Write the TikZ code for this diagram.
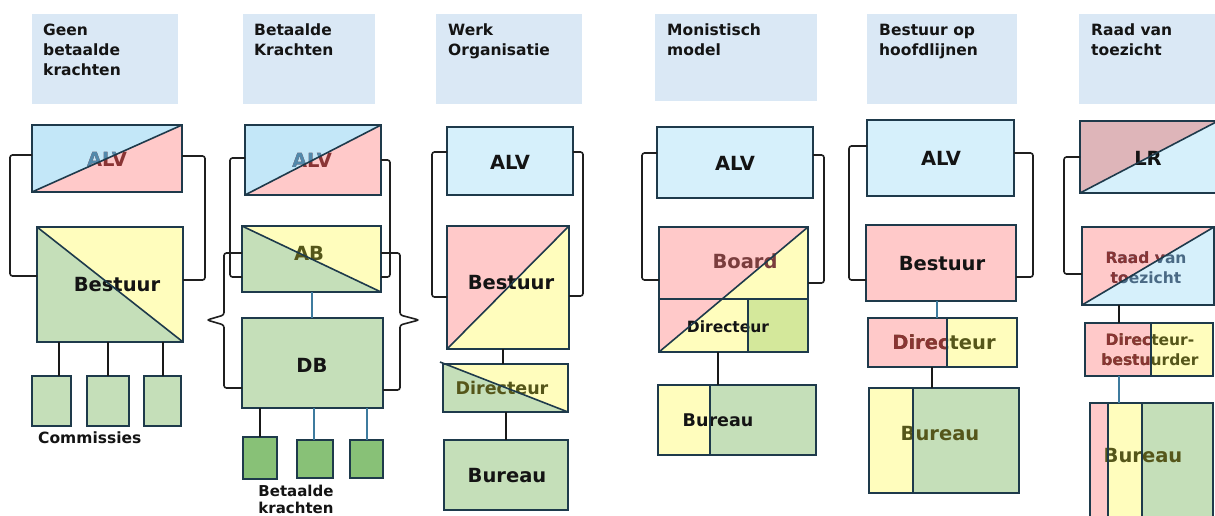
\documentclass[tikz,border=0pt]{standalone}
\usepackage{fontspec}
\setmainfont{DejaVu Sans}
\newcommand\HeadFont{\fontsize{15.5}{20}\selectfont\bfseries}
\newcommand\FootFont{\fontsize{15}{17}\selectfont\bfseries}
\newcommand\BoxFont{\fontsize{19.5}{20}\selectfont\bfseries}
\newcommand\MidFont{\fontsize{17.5}{20}\selectfont\bfseries}
\newcommand\SubFont{\fontsize{15.5}{20}\selectfont\bfseries}
\definecolor{chdr}{HTML}{DAE8F5}
\definecolor{cblue}{HTML}{C3E7F8}
\definecolor{clblue}{HTML}{D6F0FB}
\definecolor{cpink}{HTML}{FFC9C9}
\definecolor{cyellow}{HTML}{FFFDBD}
\definecolor{cgreen}{HTML}{C5DFB9}
\definecolor{cdgreen}{HTML}{88C177}
\definecolor{clime}{HTML}{D4E89B}
\definecolor{clrpink}{HTML}{DEB5B9}
\definecolor{cborder}{HTML}{1E3A4B}
\definecolor{clink}{HTML}{3E7B9E}
\definecolor{ctext}{HTML}{141414}
\definecolor{tblue}{HTML}{5289AB}
\definecolor{tred}{HTML}{8A3434}
\definecolor{tolive}{HTML}{55561A}
\definecolor{tbrown}{HTML}{7A3D3D}
\definecolor{tnavy}{HTML}{4A6A85}
\tikzset{
  box/.style={inner sep=0pt, outer sep=0pt, anchor=north west, draw=none},
  hdr/.style={box, fill=chdr},
  edge/.style={draw=cborder, line width=1.6pt},
  thin edge/.style={draw=cborder, line width=1.2pt},
  brk/.style={draw=black!88, line width=1.6pt, rounded corners=2.5pt},
  link/.style={draw=black!90, line width=2pt},
  blink/.style={draw=clink, line width=2pt},
  htext/.style={inner sep=0pt, anchor=north west, align=left, font=\HeadFont, text=ctext},
  lbl/.style={inner sep=0pt, font=\BoxFont, text=ctext},
}
\begin{document}
\begin{tikzpicture}[x=1pt,y=-1pt]
\useasboundingbox (0,0) rectangle (1215,515);
\fill[white] (0,0) rectangle (1215,515);

% ---------- column headers ----------
\node[hdr, minimum width=146pt, minimum height=90pt] (h1) at (32,14) {};
\node[htext] (h1t) at (43,24) {Geen\\betaalde\\krachten};
\node[hdr, minimum width=132pt, minimum height=90pt] (h2) at (243,14) {};
\node[htext] (h2t) at (254,24) {Betaalde\\Krachten};
\node[hdr, minimum width=146pt, minimum height=90pt] (h3) at (436,14) {};
\node[htext] (h3t) at (448,24) {Werk\\Organisatie};
\node[hdr, minimum width=162pt, minimum height=87pt] (h4) at (655,14) {};
\node[htext] (h4t) at (667,24) {Monistisch\\model};
\node[hdr, minimum width=150pt, minimum height=90pt] (h5) at (867,14) {};
\node[htext] (h5t) at (879,24) {Bestuur op\\hoofdlijnen};
\node[hdr, minimum width=140pt, minimum height=90pt] (h6) at (1079,14) {};
\node[htext] (h6t) at (1091,24) {Raad van\\toezicht};

% ---------- 1: geen betaalde krachten ----------
\node[box, fill=cblue, minimum width=150pt, minimum height=67pt] (alv1) at (32,125) {};
\fill[cpink] (alv1.south west) -- (alv1.north east) -- (alv1.south east) -- cycle;
\node[lbl, text=tred] (alv1t) at (107,159) {ALV};
\begin{scope}
  \clip (alv1.north west) -- (alv1.north east) -- (alv1.south west) -- cycle;
  \node[lbl, text=tblue] (alv1u) at (107,159) {ALV};
\end{scope}
\draw[edge] (alv1.north west) rectangle (alv1.south east) (alv1.south west) -- (alv1.north east);

\node[box, fill=cyellow, minimum width=146pt, minimum height=115pt] (best1) at (37,227) {};
\fill[cgreen] (best1.north west) -- (best1.south east) -- (best1.south west) -- cycle;
\node[lbl] (best1t) at (117,285) {Bestuur};
\draw[edge] (best1.north west) rectangle (best1.south east) (best1.north west) -- (best1.south east);

\draw[brk] ([yshift=3.5pt]alv1.west) -- ++(-22,0) |- ([yshift=8.5pt]best1.west);
\draw[brk] ([yshift=2.5pt]alv1.east) -- ++(23,0) |- ([yshift=4.5pt]best1.east);

\node[box, fill=cgreen, thin edge, minimum width=39pt, minimum height=50pt] (c1) at (32,376) {};
\node[box, fill=cgreen, thin edge, minimum width=42pt, minimum height=50pt] (c2) at (87,376) {};
\node[box, fill=cgreen, thin edge, minimum width=37pt, minimum height=50pt] (c3) at (144,376) {};
\draw[link] ([xshift=7.5pt]c1.north) -- ([xshift=7.5pt]c1.north |- best1.south);
\draw[link] (c2.north) -- (c2.north |- best1.south);
\draw[link] (c3.north) -- (c3.north |- best1.south);
\node[inner sep=0pt, anchor=base west, font=\SubFont, text=ctext] (com1) at (38,443) {Commissies};

% ---------- 2: betaalde krachten ----------
\node[box, fill=cblue, minimum width=136pt, minimum height=70pt] (alv2) at (245,125) {};
\fill[cpink] (alv2.south west) -- (alv2.north east) -- (alv2.south east) -- cycle;
\node[lbl, text=tred] (alv2t) at (312,160) {ALV};
\begin{scope}
  \clip (alv2.north west) -- (alv2.north east) -- (alv2.south west) -- cycle;
  \node[lbl, text=tblue] (alv2u) at (312,160) {ALV};
\end{scope}
\draw[edge] (alv2.north west) rectangle (alv2.south east) (alv2.south west) -- (alv2.north east);

\node[box, fill=cyellow, minimum width=139pt, minimum height=66pt] (ab2) at (242,226) {};
\fill[cgreen] (ab2.north west) -- (ab2.south east) -- (ab2.south west) -- cycle;
\node[lbl, text=tolive] (ab2t) at (309,253) {AB};
\draw[edge] (ab2.north west) rectangle (ab2.south east) (ab2.north west) -- (ab2.south east);

\node[box, fill=cgreen, minimum width=141pt, minimum height=90pt] (db2) at (242,318) {};
\draw[thin edge] (db2.north west) rectangle (db2.south east);
\node[lbl] (db2t) at (312,365) {DB};
\draw[blink] (ab2.south) -- (ab2.south |- db2.north);

\draw[brk] ([yshift=2pt]alv2.west) -- ++(-15,0) |- ([yshift=-18pt]ab2.west);
\draw[brk] (alv2.east) -- ++(9,0) |- ([yshift=-18pt]ab2.east);
\draw[brk] ([yshift=6pt]ab2.west) -- ++(-18,0) -- ++(0,62) -- ++(-17,5) -- ++(17,5) |- ([yshift=-25pt]db2.west);
\draw[brk] ([yshift=6pt]ab2.east) -- ++(19,0) -- ++(0,62) -- ++(19,5) -- ++(-19,5) |- ([yshift=-27pt]db2.east);

\node[box, fill=cdgreen, thin edge, minimum width=34pt, minimum height=42pt] (s1) at (243,437) {};
\node[box, fill=cdgreen, thin edge, minimum width=36pt, minimum height=38pt] (s2) at (297,440) {};
\node[box, fill=cdgreen, thin edge, minimum width=33pt, minimum height=38pt] (s3) at (350,440) {};
\draw[link] (s1.north) -- (s1.north |- db2.south);
\draw[blink] ([xshift=-1pt]s2.north) -- ([xshift=-1pt]s2.north |- db2.south);
\draw[blink] (s3.north) -- (s3.north |- db2.south);
\node[inner sep=0pt, anchor=north, align=center, font=\FootFont, text=ctext] (bk2) at (296,484.5) {Betaalde\\krachten};

% ---------- 3: werkorganisatie ----------
\node[box, fill=clblue, thin edge, minimum width=126pt, minimum height=68pt] (alv3) at (447,127) {};
\node[lbl] (alv3t) at (510,162) {ALV};

\node[box, fill=cpink, minimum width=122pt, minimum height=123pt] (best3) at (447,226) {};
\fill[cyellow] (best3.south west) -- (best3.north east) -- (best3.south east) -- cycle;
\node[lbl] (best3t) at (511,283) {Bestuur};
\draw[edge] (best3.north west) rectangle (best3.south east) (best3.south west) -- (best3.north east);

\draw[brk] ([yshift=9pt]alv3.west) -- ++(-15,0) |- ([yshift=-9.5pt]best3.west);
\draw[brk] ([yshift=9pt]alv3.east) -- ++(10,0) |- ([yshift=-8.5pt]best3.east);

\node[box, fill=cyellow, minimum width=125pt, minimum height=48pt] (dir3) at (443,364) {};
\fill[cgreen] (dir3.north west) -- (dir3.south east) -- (dir3.south west) -- cycle;
\node[lbl, font=\MidFont, text=tolive] (dir3t) at (502,388) {Directeur};
\draw[edge] (dir3.north west) rectangle (dir3.south east);
\draw[edge] ([xshift=-3pt,yshift=2pt]dir3.north west) -- (dir3.south east);
\draw[link] ([xshift=-5pt]best3.south) -- ([xshift=-5pt]best3.south |- dir3.north);

\node[box, fill=cgreen, thin edge, minimum width=124pt, minimum height=70pt] (bur3) at (444,440) {};
\node[lbl] (bur3t) at (507,476) {Bureau};
\draw[link] (dir3.south) -- (dir3.south |- bur3.north);

% ---------- 4: monistisch model ----------
\node[box, fill=clblue, thin edge, minimum width=156pt, minimum height=71pt] (alv4) at (657,127) {};
\node[lbl] (alv4t) at (735,163) {ALV};

\node[box, fill=cpink, minimum width=149pt, minimum height=125pt] (board4) at (659,227) {};
\fill[cyellow] (board4.south west) -- (board4.north east) -- (board4.south east) -- cycle;
\node[box, fill=clime, minimum width=60pt, minimum height=53pt] (dsq4) at (748,299) {};
\node[lbl, text=tbrown] (board4t) at (745,261) {Board};
\node[lbl, font=\SubFont] (dir4t) at (728,327) {Directeur};
\draw[thin edge] (board4.north west) rectangle (board4.south east);
\draw[thin edge] (dsq4.north west) rectangle (dsq4.south east);
\draw[thin edge] (board4.west |- dsq4.north) -- (dsq4.north west);
\draw[edge] (board4.south west) -- (board4.north east);

\draw[brk] ([yshift=9.5pt]alv4.west) -- ++(-15,0) |- ([yshift=9.5pt]board4.west);
\draw[brk] ([yshift=7.5pt]alv4.east) -- ++(11,0) |- ([yshift=6.5pt]board4.east);

\node[box, fill=cgreen, minimum width=158pt, minimum height=70pt] (bur4) at (658,385) {};
\node[box, fill=cyellow, minimum width=52pt, minimum height=70pt] (bur4y) at (658,385) {};
\node[lbl, font=\MidFont] (bur4t) at (718,420) {Bureau};
\draw[edge] (bur4.north west) rectangle (bur4.south east) (bur4y.north east) -- (bur4y.south east);
\draw[link] ([xshift=-15.5pt]board4.south) -- ([xshift=-15.5pt]board4.south |- bur4.north);

% ---------- 5: bestuur op hoofdlijnen ----------
\node[box, fill=clblue, thin edge, minimum width=147pt, minimum height=76pt] (alv5) at (867,120) {};
\node[lbl] (alv5t) at (941,158) {ALV};

\node[box, fill=cpink, thin edge, minimum width=150pt, minimum height=76pt] (best5) at (866,225) {};
\node[lbl] (best5t) at (942,264) {Bestuur};

\draw[brk] ([yshift=12pt]alv5.west) -- ++(-18,0) |- ([yshift=-17pt]best5.west);
\draw[brk] ([yshift=5pt]alv5.east) -- ++(19,0) |- ([yshift=-14pt]best5.east);

\node[box, fill=cpink, minimum width=149pt, minimum height=49pt] (dir5) at (868,318) {};
\node[box, fill=cyellow, minimum width=70pt, minimum height=49pt] (dir5y) at (947,318) {};
\node[lbl, text=tolive] (dir5t) at (944,342) {Directeur};
\begin{scope}
  \clip (dir5.north west) rectangle (dir5y.south west);
  \node[lbl, text=tred] (dir5u) at (944,342) {Directeur};
\end{scope}
\draw[edge] (dir5.north west) rectangle (dir5.south east) (dir5y.north west) rectangle (dir5y.south east);
\draw[blink] ([xshift=-4pt]best5.south) -- ([xshift=-4pt]best5.south |- dir5.north);

\node[box, fill=cgreen, minimum width=150pt, minimum height=105pt] (bur5) at (869,388) {};
\node[box, fill=cyellow, minimum width=44pt, minimum height=105pt] (bur5y) at (869,388) {};
\node[lbl, text=tolive] (bur5t) at (940,434) {Bureau};
\draw[thin edge] (bur5.north west) rectangle (bur5.south east);
\draw[edge, line width=2.2pt] (bur5y.north west) rectangle (bur5y.south east);
\draw[link] ([xshift=-10.5pt]dir5.south) -- ([xshift=-10.5pt]dir5.south |- bur5.north);

% ---------- 6: raad van toezicht ----------
\node[box, fill=clblue, minimum width=138pt, minimum height=72pt] (lr6) at (1080,121) {};
\fill[clrpink] (lr6.north west) -- (lr6.north east) -- (lr6.south west) -- cycle;
\node[lbl] (lr6t) at (1148,158) {LR};
\draw[edge] (lr6.north west) rectangle (lr6.south east) (lr6.south west) -- (lr6.north east);

\node[box, fill=clblue, minimum width=132pt, minimum height=78pt] (rvt6) at (1082,227) {};
\fill[cpink] (rvt6.north west) -- (rvt6.north east) -- (rvt6.south west) -- cycle;
\node[lbl, font=\SubFont, align=center, text=tnavy] (rvt6t) at (1146,268) {Raad van\\toezicht};
\begin{scope}
  \clip (rvt6.north west) -- (rvt6.north east) -- (rvt6.south west) -- cycle;
  \node[lbl, font=\SubFont, align=center, text=tred] (rvt6u) at (1146,268) {Raad van\\toezicht};
\end{scope}
\draw[edge] (rvt6.north west) rectangle (rvt6.south east) (rvt6.south west) -- (rvt6.north east);

\draw[brk] (lr6.west) -- ++(-16,0) |- ([yshift=-8pt]rvt6.west);

\node[box, fill=cpink, minimum width=128pt, minimum height=53pt] (db6) at (1085,323) {};
\node[box, fill=cyellow, minimum width=62pt, minimum height=53pt] (db6y) at (1151,323) {};
\node[lbl, font=\SubFont, align=center, text=tolive] (db6t) at (1150,350) {Directeur-\\bestuurder};
\begin{scope}
  \clip (db6.north west) rectangle (db6y.south west);
  \node[lbl, font=\SubFont, align=center, text=tred] (db6u) at (1150,350) {Directeur-\\bestuurder};
\end{scope}
\draw[edge] (db6.north west) rectangle (db6.south east) (db6y.north west) -- (db6y.south west);
\draw[link] ([xshift=-29pt]rvt6.south) -- ([xshift=-29pt]rvt6.south |- db6.north);

\node[box, fill=cgreen, minimum width=123pt, minimum height=120pt] (bur6) at (1090,403) {};
\node[box, fill=cyellow, minimum width=34pt, minimum height=120pt] (bur6y) at (1108,403) {};
\node[box, fill=cpink, minimum width=18pt, minimum height=120pt] (bur6p) at (1090,403) {};
\node[lbl, text=tolive] (bur6t) at (1143,456) {Bureau};
\draw[edge] (bur6.north west) rectangle (bur6.south east) (bur6y.north west) rectangle (bur6y.south east);
\draw[blink] ([xshift=-30pt]db6.south) -- ([xshift=-30pt]db6.south |- bur6.north);
\end{tikzpicture}
\end{document}
